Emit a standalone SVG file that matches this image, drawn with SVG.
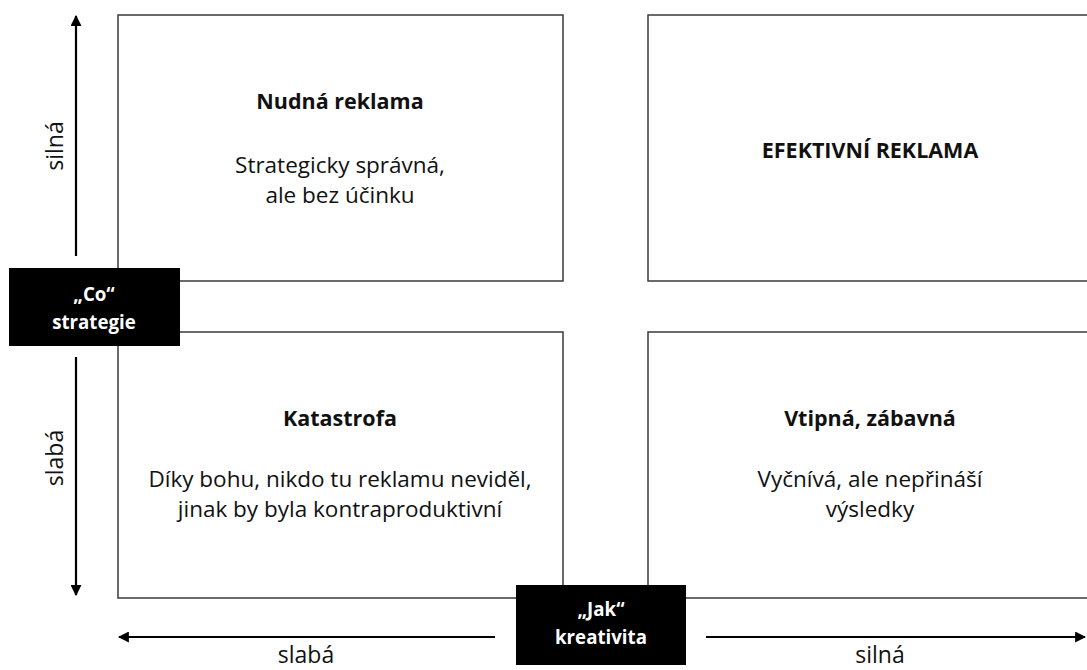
<svg xmlns="http://www.w3.org/2000/svg" width="1087" height="670" viewBox="0 0 1087 670">
<style>
.box{fill:#fff;stroke:#3a3a3a;stroke-width:1.5}
.t{font-family:"Open Sans","Liberation Sans",sans-serif;font-size:22.5px;fill:#111;text-anchor:middle}
.h{font-weight:bold;font-size:21.5px}
.w{fill:#fff;font-weight:bold;font-size:18.7px}
.a{font-size:23px}
.ax{stroke:#000;stroke-width:2.2;fill:none;marker-end:url(#ah)}
</style>
<defs>
<marker id="ah" viewBox="0 0 10 10" refX="9" refY="5" markerWidth="5" markerHeight="5" orient="auto" markerUnits="strokeWidth">
<path d="M0,0 L10,5 L0,10 z" fill="#000"/>
</marker>
</defs>
<rect width="1087" height="670" fill="#fff"/>
<g id="connectors">
<line class="ax" x1="76" y1="256" x2="76" y2="16"/>
<line class="ax" x1="76" y1="357" x2="76" y2="595"/>
<line class="ax" x1="495" y1="637" x2="119" y2="637"/>
<line class="ax" x1="706" y1="637" x2="1085" y2="637"/>
</g>
<g id="q-nudna">
<rect class="box" x="118" y="15" width="445" height="266"/>
<text class="t h" x="340" y="109">Nudná reklama</text>
<text class="t" x="340" y="173">Strategicky správná,</text>
<text class="t" x="340" y="203">ale bez účinku</text>
</g>
<g id="q-efektivni">
<rect class="box" x="648" y="15" width="445" height="266"/>
<text class="t h" x="870" y="158">EFEKTIVNÍ REKLAMA</text>
</g>
<g id="q-katastrofa">
<rect class="box" x="118" y="332" width="445" height="266"/>
<text class="t h" x="340" y="426">Katastrofa</text>
<text class="t" x="340" y="487">Díky bohu, nikdo tu reklamu neviděl,</text>
<text class="t" x="340" y="517">jinak by byla kontraproduktivní</text>
</g>
<g id="q-vtipna">
<rect class="box" x="648" y="332" width="445" height="266"/>
<text class="t h" x="870" y="426">Vtipná, zábavná</text>
<text class="t" x="870" y="487">Vyčnívá, ale nepřináší</text>
<text class="t" x="870" y="517">výsledky</text>
</g>
<g id="co">
<rect x="9" y="268" width="171" height="78" fill="#000"/>
<text class="t w" x="94" y="301">„Co“</text>
<text class="t w" x="94" y="329">strategie</text>
</g>
<g id="jak">
<rect x="516" y="585" width="170" height="80" fill="#000"/>
<text class="t w" x="601" y="616">„Jak“</text>
<text class="t w" x="601" y="644">kreativita</text>
</g>
<g id="axis-labels">
<text class="t a" transform="translate(63,146) rotate(-90)">silná</text>
<text class="t a" transform="translate(63,458) rotate(-90)">slabá</text>
<text class="t a" x="306" y="663">slabá</text>
<text class="t a" x="880" y="663">silná</text>
</g>
</svg>
